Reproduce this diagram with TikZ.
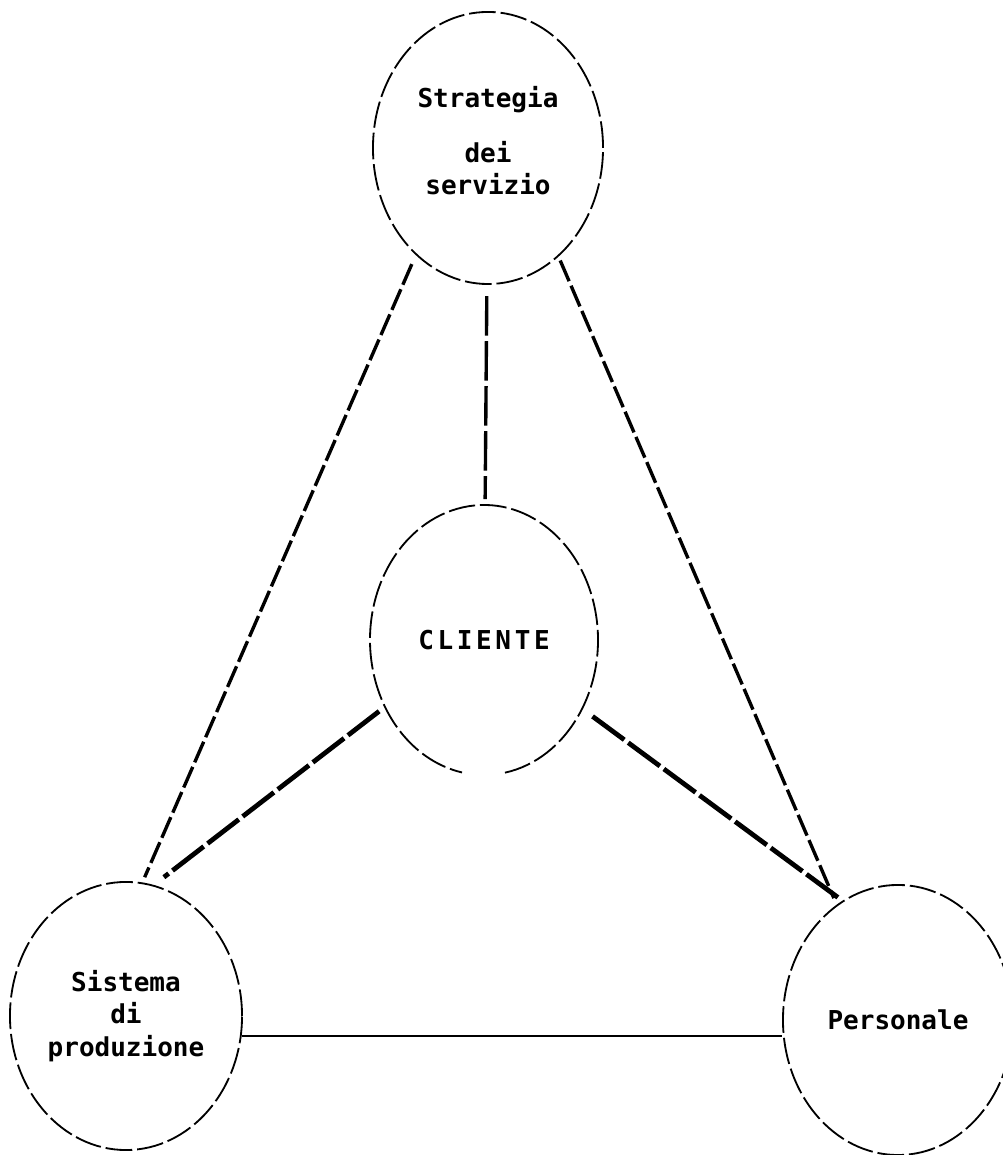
\documentclass[tikz,border=0pt]{standalone}
\usepackage{fontspec}
\newfontfamily\labelfont{DejaVu Sans Mono}
\usepackage{tikz}
\usetikzlibrary{
  positioning,
  shapes.geometric
}

\begin{document}
\begin{tikzpicture}[x=0.025cm,y=0.025cm,
        blob/.style={ellipse,inner sep=0pt,align=center,
            font=\labelfont\bfseries\fontsize{18.5}{23}\selectfont},
        ring/.style={line width=1.3pt,dash pattern=on 19pt off 3.5pt},
        link/.style={line width=2.4pt,dash pattern=on 16pt off 3.5pt},
        heavylink/.style={line width=3.4pt,dash pattern=on 28pt off 3.5pt}]
                \useasboundingbox (0,0) rectangle (1002,1155);
                \node[blob,draw,ring,minimum width=5.75cm,minimum height=6.8cm] (strategia) at (488,1007) {Strategia\\[16pt]dei\\servizio\\[-12pt]\mbox{}};
                \node[blob,minimum width=5.7cm,minimum height=6.75cm] (cliente) at (484,515) {\addfontfeature{LetterSpace=14}CLIENTE};
                \node[blob,draw,ring,minimum width=5.8cm,minimum height=6.7cm] (sistema) at (126,139) {Sistema\\di\\produzione};
                \node[blob,draw,ring,minimum width=5.75cm,minimum height=6.75cm] (personale) at (898,135) {Personale};
                % open border at the bottom of the middle ellipse
                \draw[ring] (cliente.center) ++(-79.4:114 and 135) arc[start angle=-79.4,end angle=258.9,x radius=114,y radius=135];
                \draw[link,shorten <=7pt,shorten >=4pt] (strategia.236) -- (sistema.83);
                \draw[link,shorten <=3pt,shorten >=5pt] (strategia.303) -- (personale.118);
                \draw[link,dash pattern=on 28pt off 4pt,shorten <=8pt,shorten >=4pt] (strategia) -- (cliente);
                \draw[heavylink,shorten <=5pt,shorten >=9pt] (cliente.214) -- (sistema.78);
                \draw[heavylink,shorten <=9pt,shorten >=4pt] (cliente.325) -- (personale.115);
                \draw[line width=1.4pt] (sistema.-10) -- (sistema.-10 -| personale.west);
            \end{tikzpicture}
\end{document}
